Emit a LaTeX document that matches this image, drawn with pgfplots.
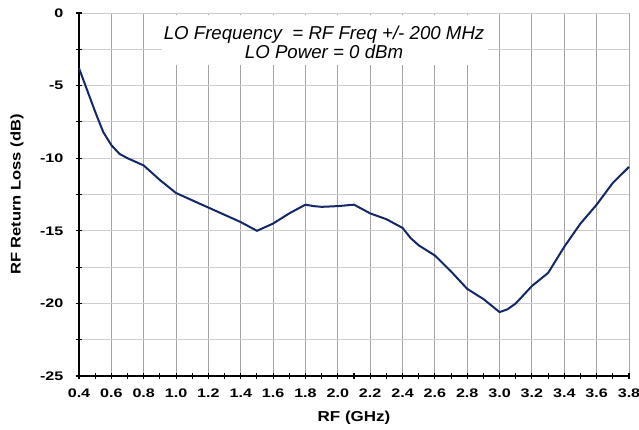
\documentclass[border=0pt]{standalone}
\usepackage{pgfplots}
\pgfplotsset{compat=1.18}
\usepackage{fontspec}
\setmainfont{Liberation Sans}
\newfontfamily\tickfont[FakeStretch=1.3]{Liberation Sans}
\newfontfamily\labfont[FakeStretch=1.18]{Liberation Sans}

\definecolor{curve}{RGB}{20,40,104}
\definecolor{gridv}{RGB}{165,165,165}
\definecolor{gridh}{RGB}{205,205,205}

\pgfplotstableread{
x y
0.40 -3.8
0.45 -5.3
0.50 -6.8
0.55 -8.2
0.60 -9.1
0.65 -9.7
0.70 -10.0
0.80 -10.5
0.90 -11.5
1.00 -12.4
1.10 -12.9
1.20 -13.4
1.30 -13.9
1.40 -14.4
1.50 -15.0
1.60 -14.5
1.70 -13.8
1.80 -13.2
1.85 -13.3
1.90 -13.35
2.00 -13.3
2.10 -13.2
2.20 -13.8
2.30 -14.2
2.40 -14.8
2.45 -15.5
2.50 -16.0
2.60 -16.7
2.70 -17.8
2.80 -19.0
2.90 -19.7
3.00 -20.6
3.05 -20.4
3.10 -20.0
3.20 -18.8
3.30 -17.9
3.40 -16.1
3.50 -14.5
3.60 -13.2
3.70 -11.7
3.80 -10.6
}\rlcurve

\begin{document}
\begin{tikzpicture}
\begin{axis}[
  scale only axis,
  width=412.5pt, height=272.25pt,
  xmin=0.4, xmax=3.8, ymin=-25, ymax=0,
  axis x line=bottom, axis y line=left,
  axis line style={-, black, line width=1pt},
  xtick={0.4,0.6,0.8,1.0,1.2,1.4,1.6,1.8,2.0,2.2,2.4,2.6,2.8,3.0,3.2,3.4,3.6,3.8},
  minor xtick={0.5,0.7,0.9,1.1,1.3,1.5,1.7,1.9,2.1,2.3,2.5,2.7,2.9,3.1,3.3,3.5,3.7},
  ytick={-25,-20,-15,-10,-5,0},
  minor ytick={-22.5,-17.5,-12.5,-7.5,-2.5},
  tick align=center, major tick length=5pt, minor tick length=5pt,
  tick style={black, line width=0.8pt},
  xmajorgrids, ymajorgrids, yminorgrids,
  x grid style={gridv, line width=0.75pt},
  y grid style={gridh, line width=0.75pt},
  minor y grid style={gridh, line width=0.75pt},
  /pgf/number format/assume math mode=true,
  ticklabel style={font=\tickfont\fontsize{9.3}{10}\selectfont\bfseries, inner sep=0pt},
  xticklabel style={anchor=base, yshift=-13.4pt,
    /pgf/number format/.cd, fixed, fixed zerofill, precision=1},
  yticklabel style={anchor=east, xshift=-9pt,
    /pgf/number format/.cd, fixed, precision=0},
  xlabel={RF (GHz)}, ylabel={RF Return Loss (dB)},
  xlabel style={font=\labfont\fontsize{10.8}{12}\selectfont\bfseries,
    at={(axis description cs:0.5,-0.1157)}, anchor=center},
  ylabel style={font=\labfont\fontsize{10.5}{12}\selectfont\bfseries,
    at={(axis description cs:-0.1127,0.5)}, anchor=center},
  clip=false,
]
\fill[white] (axis cs:0.911,-0.12) rectangle (axis cs:2.928,-3.58);
\node[font=\fontsize{14}{14.25}\selectfont\itshape, align=center, anchor=center]
  at (axis cs:1.915,-2.03) {LO Frequency\ \ = RF Freq +/- 200 MHz\\LO Power = 0 dBm};
\addplot[curve, line width=1.5pt, no marks] table[x=x, y=y] {\rlcurve};
\end{axis}
\pgfresetboundingbox
\path (-59.25pt,-39.75pt) rectangle (420pt,282pt);
\end{tikzpicture}
\end{document}
